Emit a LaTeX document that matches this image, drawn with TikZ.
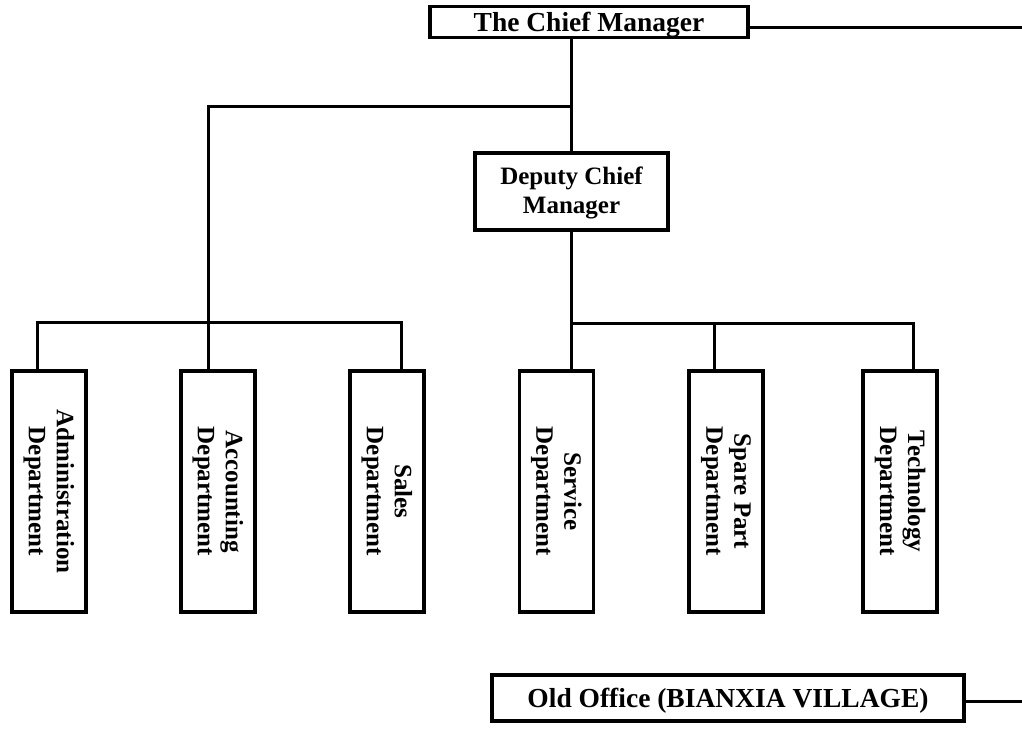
\documentclass[tikz,border=0pt]{standalone}
\usepackage{fontspec}
\setmainfont{Liberation Serif}
\begin{document}
\begin{tikzpicture}[x=1pt,y=-1pt,
  box/.style={draw=black,line width=3.6pt,rectangle,inner sep=0pt,fill=white},
  conn/.style={draw=black,line width=3.0pt,line cap=rect},
  bigtext/.style={font=\bfseries\fontsize{27.5}{31}\selectfont,align=center,yshift=-2.5pt},
  midtext/.style={font=\bfseries\fontsize{25}{29}\selectfont,align=center,yshift=-1.5pt},
  depttext/.style={font=\bfseries\fontsize{25}{28}\selectfont,align=center,rotate=-90}]
% page frame
\fill[white] (0,0) rectangle (1022,733);
\useasboundingbox (0,0) rectangle (1022,733);

% management boxes
\node[box,minimum width=318pt,minimum height=31pt] (chief) at (589,22) {};
\node[bigtext] (chieft) at (chief) {The Chief Manager};
\node[box,minimum width=193pt,minimum height=77pt] (dep) at (571.5,191.5) {};
\node[midtext] (dept) at (dep) {Deputy Chief\\Manager};

% department boxes
\foreach \n/\cx/\t in {adm/49/{Administration\\Department},
                       acc/218/{Accounting\\Department},
                       sal/387/{Sales\\Department},
                       ser/556.5/{Service\\Department},
                       spa/726/{Spare Part\\Department},
                       tec/900/{Technology\\Department}}{
  \node[box,minimum width=74pt,minimum height=241pt] (\n) at (\cx,491.5) {};
  \node[depttext] (\n t) at (\n) {\t};
}

% old office
\node[box,minimum width=472pt,minimum height=46pt] (old) at (728,698) {};
\node[bigtext] (oldt) at (old) {Old Office (BIANXIA VILLAGE)};

% junction points
\coordinate (jtop) at (571.5,107);
\coordinate (jleft) at (208,107);
\coordinate (lbar) at (208,322);
\coordinate (da) at (37,322);
\coordinate (ds) at (401,322);
\coordinate (rbar) at (571.5,323);
\coordinate (dp) at (714,323);
\coordinate (dt) at (913,323);
\coordinate (eastA) at (1022,28);
\coordinate (eastB) at (1022,701);

% connectors
\draw[conn] (chief.east |- eastA) -- (eastA);
\draw[conn] (old.east |- eastB) -- (eastB);
\draw[conn] (dep.north |- chief.south) -- (dep.north);
\draw[conn] (jtop) -- (jleft) -- (lbar);
\draw[conn] (da) -- (ds);
\draw[conn] (da) -- (da |- adm.north);
\draw[conn] (lbar) -- (lbar |- acc.north);
\draw[conn] (ds) -- (ds |- sal.north);
\draw[conn] (dep.south) -- (rbar);
\draw[conn] (rbar) -- (dt);
\draw[conn] (rbar) -- (rbar |- ser.north);
\draw[conn] (dp) -- (dp |- spa.north);
\draw[conn] (dt) -- (dt |- tec.north);
\end{tikzpicture}
\end{document}
